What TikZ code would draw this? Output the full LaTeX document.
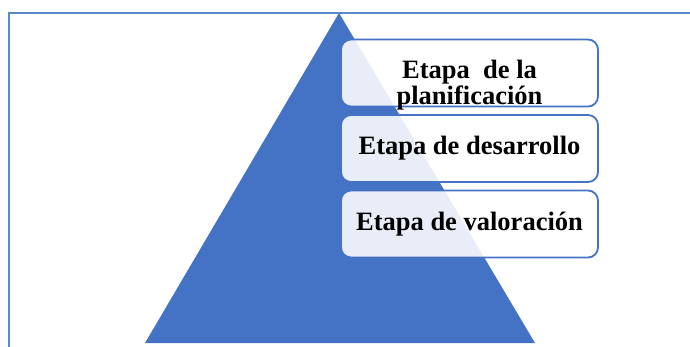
\documentclass[tikz,border=0pt]{standalone}
\usepackage{fontspec}
\setmainfont{Liberation Serif}
\definecolor{accblue}{HTML}{4472C4}
\definecolor{framblue}{HTML}{5B87CC}
\begin{document}
\begin{tikzpicture}[x=1pt,y=-1pt,
  stagebox/.style={draw=accblue, line width=1.8pt, rounded corners=10pt, fill=white, fill opacity=0.88, text opacity=1,
    minimum width=257pt, minimum height=67pt, inner sep=0pt, align=center,
    font=\bfseries\fontsize{26.5}{27}\selectfont},
  stagetext/.style={inner sep=0pt, align=center, font=\bfseries\fontsize{26.5}{27}\selectfont}]
\useasboundingbox (0,0) rectangle (690,347);
\begin{scope}
\clip (0,0) rectangle (690,347);
\draw[framblue, line width=1.5pt] (9,13) rectangle (720,380);
\end{scope}
\fill[accblue] (339,13) -- (535,343) -- (145,343) -- cycle;
\node[stagebox] (b1) at (469.5,73) {};
\node[stagetext] (t1) at (469.5,85.5) {Etapa\ \ de la\\[-1pt]planificación};
\node[stagebox] (b2) at (469.5,148.5) {Etapa de desarrollo};
\node[stagebox] (b3) at (469.5,224) {Etapa de valoración};
\end{tikzpicture}
\end{document}
